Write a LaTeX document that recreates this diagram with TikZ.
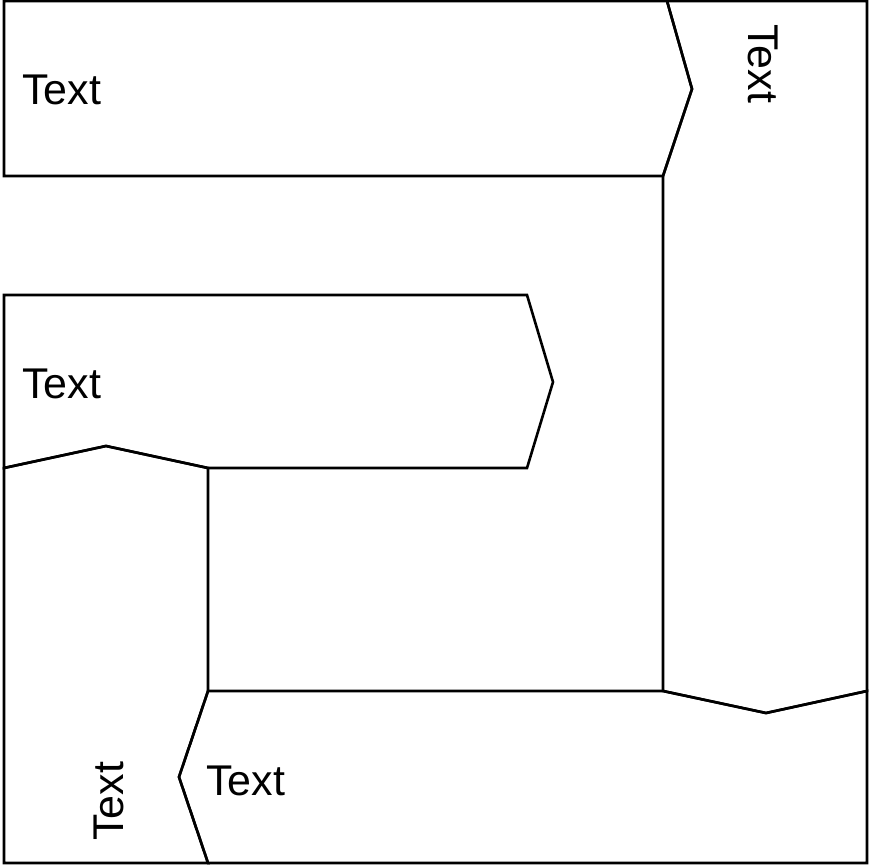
\documentclass[tikz,border=0pt]{standalone}
\usepackage{fontspec}
\setmainfont{Liberation Sans}
\begin{document}
\begin{tikzpicture}[x=1pt,y=-1pt,
  shapeline/.style={draw=black,line width=2.6pt,line join=miter},
  lbl/.style={inner sep=0pt,font=\fontsize{43}{51}\selectfont}]
\fill[white] (0,0) rectangle (869,866);
\useasboundingbox (0,0) rectangle (869,866);
% top shape
\draw[shapeline] (4,1) -- (667,1) -- (692,89) -- (663,176) -- (4,176) -- cycle;
% right shape
\draw[shapeline] (667,1) -- (867,1) -- (867,691) -- (766,713) -- (663,691) -- (663,176) -- (692,89) -- cycle;
% middle shape
\draw[shapeline] (4,295) -- (527,295) -- (553,382) -- (527,468) -- (208,468) -- (106,446) -- (4,468) -- cycle;
% bottom-left shape
\draw[shapeline] (4,468) -- (106,446) -- (208,468) -- (208,691) -- (179,777) -- (208,863) -- (4,863) -- cycle;
% bottom shape
\draw[shapeline] (208,691) -- (663,691) -- (766,713) -- (867,691) -- (867,863) -- (208,863) -- (179,777) -- cycle;
% labels
\node[lbl,anchor=base west] (t1) at (22,105) {Text};
\node[lbl,anchor=base west] (t2) at (22,398) {Text};
\node[lbl,anchor=base west] (t3) at (206,795) {Text};
\node[lbl,anchor=base west,rotate=-90] (t4) at (748,24) {Text};
\node[lbl,anchor=base west,rotate=90] (t5) at (123,841) {Text};
\end{tikzpicture}
\end{document}
